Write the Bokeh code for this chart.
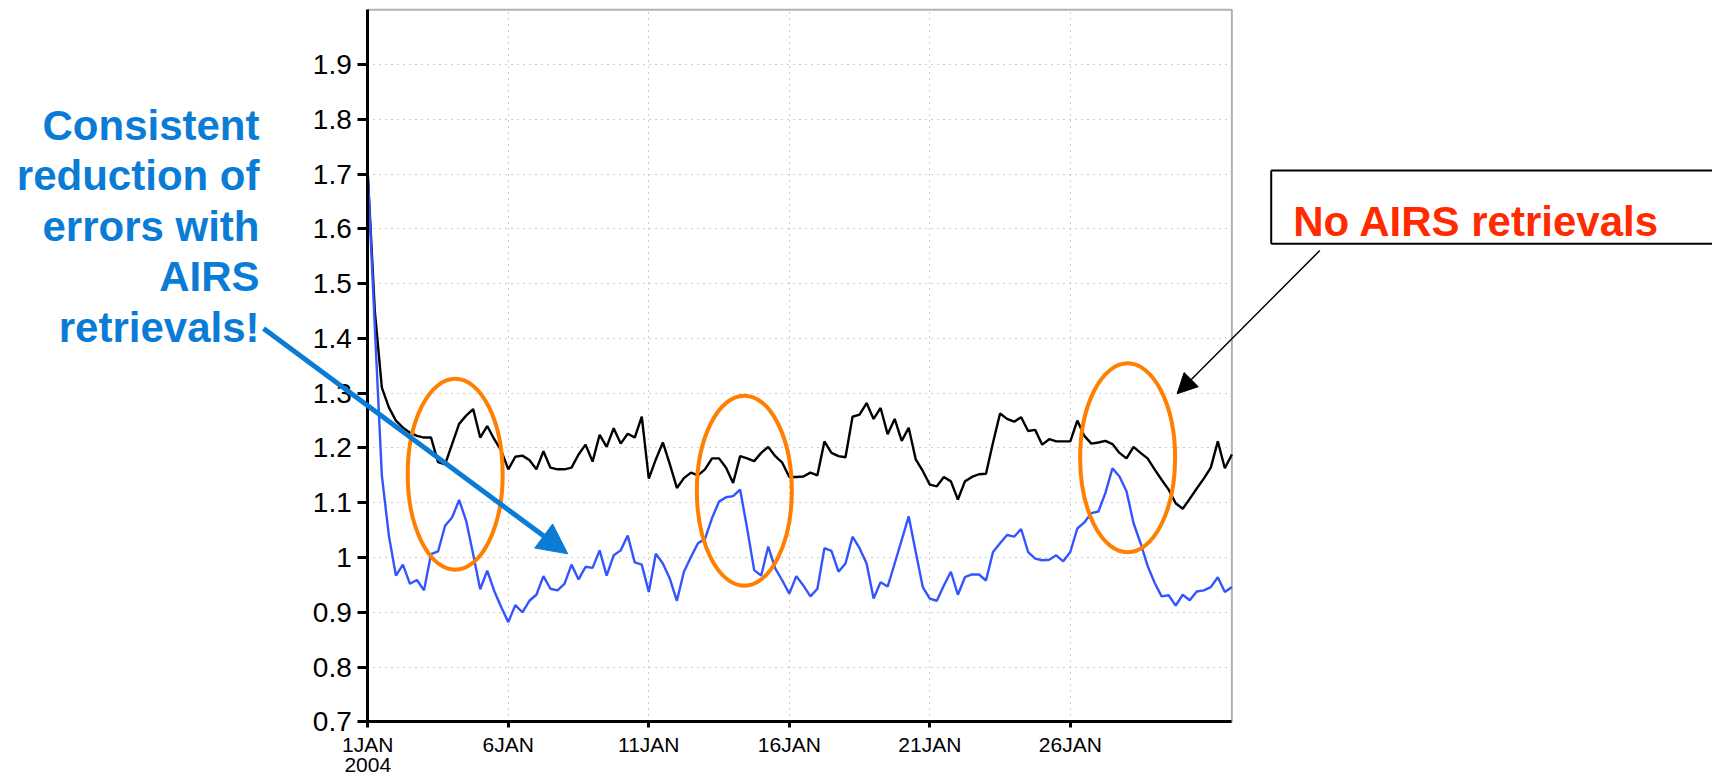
from bokeh.plotting import figure
from bokeh.models import Range1d, FixedTicker, Label, Arrow, NormalHead, BoxAnnotation
from bokeh.embed import file_html
from bokeh.resources import INLINE

# ---------------- data ----------------
# 6-hourly forecast error, 1 JAN 2004 00Z .. 31 JAN 2004 18Z
no_airs = [1.70, 1.45, 1.31, 1.274, 1.25, 1.237, 1.228, 1.222, 1.219, 1.219,
           1.174, 1.17, 1.207, 1.244, 1.259, 1.271, 1.219, 1.24, 1.216, 1.195,
           1.161, 1.184, 1.186, 1.178, 1.161, 1.194, 1.164, 1.161, 1.161, 1.164,
           1.188, 1.206, 1.175, 1.224, 1.202, 1.236, 1.208, 1.226, 1.219, 1.257,
           1.144, 1.179, 1.21, 1.17, 1.127, 1.145, 1.155, 1.15, 1.161, 1.181,
           1.181, 1.164, 1.136, 1.185, 1.181, 1.176, 1.191, 1.202, 1.185, 1.173,
           1.147, 1.147, 1.148, 1.155, 1.15, 1.212, 1.191, 1.185, 1.183, 1.257,
           1.261, 1.282, 1.253, 1.273, 1.225, 1.253, 1.213, 1.237, 1.179, 1.158,
           1.133, 1.13, 1.147, 1.139, 1.106, 1.139, 1.147, 1.152, 1.153, 1.21,
           1.263, 1.253, 1.248, 1.256, 1.231, 1.233, 1.206, 1.216, 1.212, 1.212,
           1.212, 1.25, 1.222, 1.208, 1.21, 1.213, 1.207, 1.191, 1.181, 1.202,
           1.191, 1.181, 1.161, 1.142, 1.124, 1.099, 1.089, 1.107, 1.126, 1.144,
           1.164, 1.212, 1.163, 1.188]
with_airs = [1.70, 1.42, 1.15, 1.04, 0.967, 0.987, 0.952, 0.959, 0.94, 1.006,
             1.011, 1.058, 1.073, 1.105, 1.067, 1.006, 0.942, 0.976, 0.939, 0.909,
             0.882, 0.913, 0.90, 0.921, 0.932, 0.966, 0.943, 0.94, 0.952, 0.987,
             0.96, 0.983, 0.981, 1.013, 0.967, 1.004, 1.013, 1.04, 0.991, 0.987,
             0.937, 1.007, 0.989, 0.961, 0.921, 0.974, 1.001, 1.026, 1.034, 1.072,
             1.102, 1.11, 1.112, 1.124, 1.053, 0.977, 0.967, 1.02, 0.98, 0.958,
             0.934, 0.966, 0.949, 0.929, 0.943, 1.017, 1.012, 0.974, 0.989, 1.038,
             1.017, 0.989, 0.925, 0.955, 0.947, 0.989, 1.032, 1.075, 1.01, 0.946,
             0.925, 0.921, 0.949, 0.974, 0.932, 0.964, 0.969, 0.969, 0.958, 1.01,
             1.026, 1.041, 1.038, 1.052, 1.01, 0.998, 0.995, 0.996, 1.004, 0.993,
             1.01, 1.053, 1.064, 1.081, 1.084, 1.118, 1.163, 1.148, 1.121, 1.063,
             1.026, 0.985, 0.954, 0.929, 0.931, 0.912, 0.932, 0.922, 0.938, 0.94,
             0.946, 0.964, 0.937, 0.946]
hours_per_step = 6
days = [1 + i * hours_per_step / 24 for i in range(len(no_airs))]  # day of January

x_ticks = [1, 6, 11, 16, 21, 26]
x_tick_labels = ["1JAN", "6JAN", "11JAN", "16JAN", "21JAN", "26JAN"]
year_label = "2004"
y_ticks = [0.7, 0.8, 0.9, 1.0, 1.1, 1.2, 1.3, 1.4, 1.5, 1.6, 1.7, 1.8, 1.9]
y_tick_labels = ["0.7", "0.8", "0.9", "1", "1.1", "1.2", "1.3", "1.4", "1.5",
                 "1.6", "1.7", "1.8", "1.9"]

left_note = ["Consistent", "reduction of", "errors with", "AIRS", "retrievals!"]
right_note = "No AIRS retrievals"

# plotted window (data units)
X0, X1 = 1, 31.75
Y0, Y1 = 0.7, 2.0

# ---------------- style ----------------
FONT = "Liberation Sans"
BLUE_TXT = "#0b7cd6"
RED_TXT = "#ff2a00"
ORANGE = "#ff8000"
LINE_BLUE = "#3355ff"

# the frame covers the whole canvas so that the notes outside the
# plotting box are not clipped; the axes are pinned to the box edges
p = figure(width=1712, height=778,
           x_range=Range1d(-12.071, 48.854), y_range=Range1d(0.5965, 2.01696),
           output_backend="svg", toolbar_location=None,
           min_border_left=0, min_border_right=0,
           min_border_top=0, min_border_bottom=0)
p.background_fill_color = "white"
p.border_fill_color = "white"
p.outline_line_color = None

p.xaxis.ticker = FixedTicker(ticks=x_ticks)
p.xaxis.major_label_overrides = dict(zip(x_ticks, x_tick_labels))
p.yaxis.ticker = FixedTicker(ticks=y_ticks)
p.yaxis.major_label_overrides = dict(zip(y_ticks, y_tick_labels))
p.xaxis.fixed_location = Y0
p.yaxis.fixed_location = X0
p.xaxis.bounds = (X0, X1)
p.yaxis.bounds = (Y0, Y1)

for ax in (p.xaxis, p.yaxis):
    ax.axis_line_width = 3
    ax.axis_line_color = "black"
    ax.major_tick_line_width = 3
    ax.major_tick_line_color = "black"
    ax.minor_tick_line_color = None
    ax.major_tick_in = 0
    ax.major_label_text_font = FONT
    ax.major_label_text_color = "black"
p.yaxis.major_tick_out = 10
p.yaxis.major_label_standoff = 6
p.yaxis.major_label_text_font_size = "28px"
p.xaxis.major_tick_out = 6
p.xaxis.major_label_standoff = 5
p.xaxis.major_label_text_font_size = "21px"

p.xgrid.bounds = (X0, X1)
p.xgrid.cross_bounds = (Y0, Y1)
p.ygrid.bounds = (Y0, Y1)
p.ygrid.cross_bounds = (X0, X1)
p.grid.grid_line_color = "#9a9a9a"
p.grid.grid_line_dash = "1 5"
p.grid.grid_line_width = 1

p.add_layout(BoxAnnotation(left=X0, right=X1, bottom=Y0, top=Y1,
                           fill_alpha=0, line_color="black", line_width=2,
                           level="underlay"))

p.line(days, no_airs, line_color="black", line_width=2.4)
p.line(days, with_airs, line_color=LINE_BLUE, line_width=2.4)

# ---------------- annotations ----------------
p.ellipse(x=[4.11, 14.40, 28.04], y=[1.152, 1.122, 1.182],
          width=[3.38, 3.38, 3.38], height=[0.349, 0.347, 0.345],
          fill_color=None, line_color=ORANGE, line_width=4)

p.add_layout(Label(x=X0, y=0.6348, text=year_label, text_align="center",
                   text_baseline="top", text_font=FONT,
                   text_font_size="21px", text_color="black"))

note_y = [1.7887, 1.6978, 1.6049, 1.5136, 1.4205]
for t, yy in zip(left_note, note_y):
    p.add_layout(Label(x=-2.854, y=yy, text=t, text_align="right",
                       text_baseline="alphabetic", text_font=FONT,
                       text_font_style="bold", text_font_size="42px",
                       text_color=BLUE_TXT))

p.add_layout(Arrow(x_start=-2.71, y_start=1.418, x_end=8.117, y_end=1.0067,
                   line_color=BLUE_TXT, line_width=5,
                   end=NormalHead(size=30, fill_color=BLUE_TXT,
                                  line_color=BLUE_TXT, line_width=1)))

p.add_layout(Arrow(x_start=34.88, y_start=1.5605, x_end=29.80, y_end=1.2989,
                   line_color="black", line_width=1.5,
                   end=NormalHead(size=20, fill_color="black",
                                  line_color="black", line_width=1)))

# box around the "No AIRS retrievals" note (runs off the right edge)
bx0, bx1, by0, by1 = 33.15, 50.0, 1.5727, 1.7066
for xs, ys, xe, ye in [(bx0, by1, bx1, by1), (bx0, by0, bx1, by0), (bx0, by0, bx0, by1)]:
    p.add_layout(Arrow(x_start=xs, y_start=ys, x_end=xe, y_end=ye, end=None,
                       line_color="black", line_width=2))

p.add_layout(Label(x=33.93, y=1.6135, text=right_note, text_align="left",
                   text_baseline="alphabetic", text_font=FONT,
                   text_font_style="bold", text_font_size="42px",
                   text_color=RED_TXT))

open("out.html", "w").write(file_html(p, INLINE))
